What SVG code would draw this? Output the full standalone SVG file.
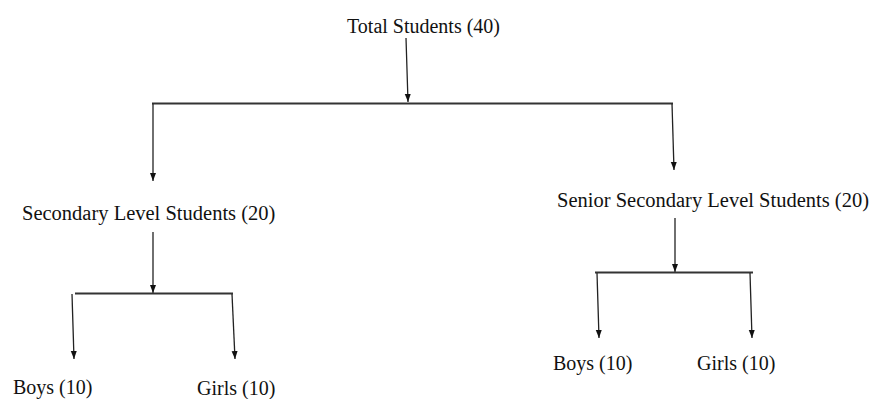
<svg xmlns="http://www.w3.org/2000/svg" width="875" height="399" viewBox="0 0 875 399">
<defs>
<marker id="ah" markerUnits="userSpaceOnUse" markerWidth="9" markerHeight="7" refX="8" refY="3.5" orient="auto">
<path d="M0,0.5 L8,3.5 L0,6.5 z" fill="#111"/>
</marker>
<style>
.t{font-family:"Liberation Serif","Times New Roman",serif;fill:#111;font-size:20.5px}
.a{stroke:#222;stroke-width:1.3;fill:none;marker-end:url(#ah)}
.h{stroke:#333;stroke-width:1.8;fill:none}
</style>
</defs>
<rect width="875" height="399" fill="#fff"/>
<g id="connectors">
<line class="a" x1="406" y1="38" x2="408" y2="102"/>
<line class="h" x1="152" y1="103.5" x2="673" y2="103.5"/>
<line class="a" x1="153" y1="103.5" x2="153" y2="181"/>
<line class="a" x1="672" y1="103.5" x2="674" y2="170"/>
<line class="a" x1="153" y1="232" x2="153" y2="293"/>
<line class="h" x1="75" y1="293.5" x2="233" y2="293.5"/>
<line class="a" x1="72" y1="294" x2="74" y2="359"/>
<line class="a" x1="232" y1="294" x2="235" y2="359"/>
<line class="a" x1="675" y1="218" x2="675" y2="272"/>
<line class="h" x1="595" y1="272.5" x2="753" y2="272.5"/>
<line class="a" x1="597" y1="273" x2="599" y2="338"/>
<line class="a" x1="750" y1="273" x2="752" y2="338"/>
</g>
<g id="total"><text class="t" x="347" y="33" style="font-size:20px">Total Students (40)</text></g>
<g id="secondary"><text class="t" x="22" y="220">Secondary Level Students (20)</text></g>
<g id="senior"><text class="t" x="557" y="207">Senior Secondary Level Students (20)</text></g>
<g id="sec-boys"><text class="t" x="13" y="394" style="font-size:20px">Boys (10)</text></g>
<g id="sec-girls"><text class="t" x="197" y="395" style="font-size:20px">Girls (10)</text></g>
<g id="sen-boys"><text class="t" x="553" y="370" style="font-size:20px">Boys (10)</text></g>
<g id="sen-girls"><text class="t" x="697" y="370" style="font-size:20px">Girls (10)</text></g>
</svg>
